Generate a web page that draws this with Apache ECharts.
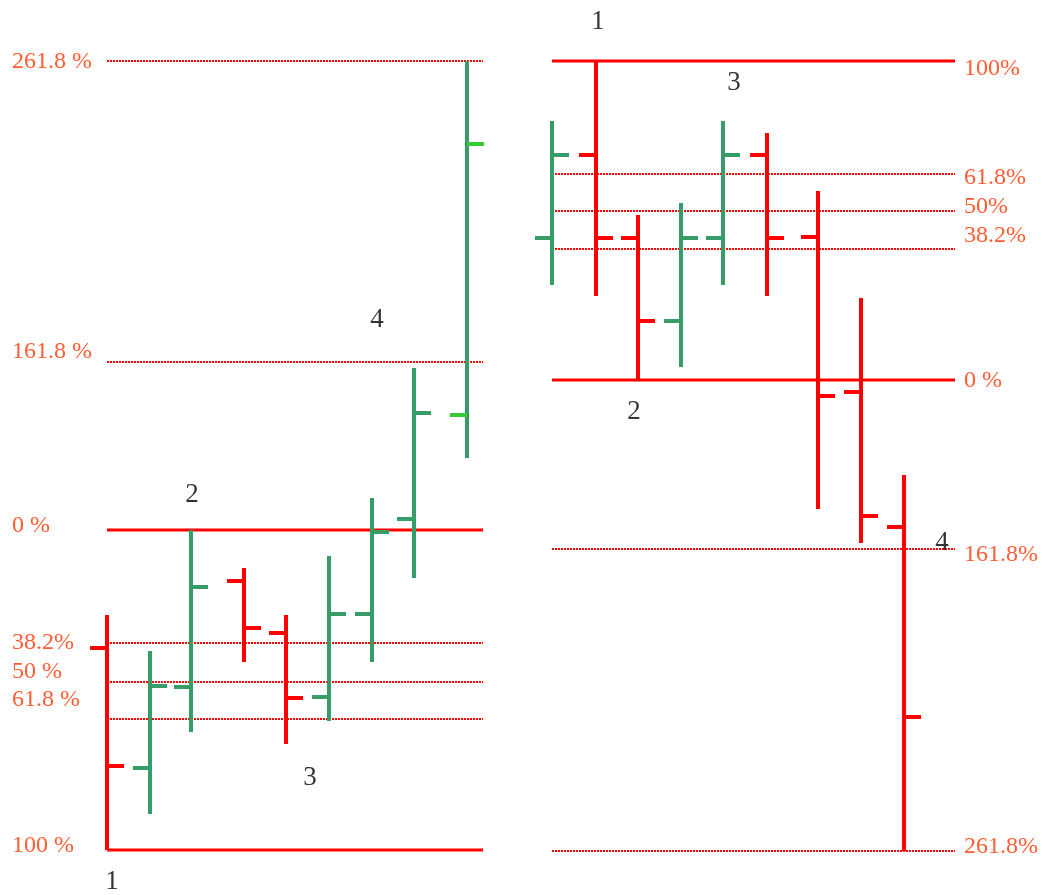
<!DOCTYPE html>
<html>
<head>
<meta charset="utf-8">
<script src="https://cdn.jsdelivr.net/npm/echarts@6/dist/echarts.min.js"></script>
<style>
    html, body {margin: 0; padding: 0; background: #fff;}
    #main {width: 1044px; height: 895px;}
</style>
</head>
<body>
<div id="main"></div>
<script>
// 左图: 上升行情 (price units)
let leftX = [107, 150, 191, 244, 286, 329, 372, 414, 467];
let leftOpen = [247, 127, 208, 314, 262, 198, 281, 376, 480];
let leftHigh = [280, 244, 365, 327, 280, 339, 397, 527, 834];
let leftLow = [45, 81, 163, 233, 151, 174, 233, 317, 437];
let leftClose = [129, 209, 308, 267, 197, 281, 363, 482, 751];
let leftMarked = [false, false, false, false, false, false, false, false, true];

// 右图: 下降行情
let rightX = [552, 596, 638, 681, 723, 767, 818, 861, 904];
let rightOpen = [657, 740, 657, 574, 657, 740, 658, 503, 368];
let rightHigh = [774, 834, 680, 692, 774, 762, 704, 597, 420];
let rightLow = [610, 599, 515, 528, 610, 599, 386, 352, 44];
let rightClose = [740, 657, 574, 657, 740, 657, 499, 379, 178];
let rightMarked = [false, false, false, false, false, false, false, false, false];

// fibonacci levels
let leftLevelNames = ['261.8 %', '161.8 %', '0 %', '38.2%', '50 %', '61.8 %', '100 %'];
let leftLevelValues = [834, 533, 365, 252, 213, 176, 45];
let leftLevelSolid = [false, false, true, false, false, false, true];
let leftLabelValues = [833, 543, 369, 252, 223, 195, 49];
let leftLevelFrom = 107, leftLevelTo = 483, leftLabelX = 12;

let rightLevelNames = ['100%', '61.8%', '50%', '38.2%', '0 %', '161.8%', '261.8%'];
let rightLevelValues = [834, 721, 684, 646, 515, 346, 44];
let rightLevelSolid = [true, false, false, false, true, false, false];
let rightLabelValues = [826, 717, 688, 659, 514, 340, 48];
let rightLevelFrom = 552, rightLevelTo = 955, rightLabelX = 964;

// wave counts
let waveNames = ['1', '2', '3', '4'];
let leftWaveX = [112, 192, 310, 377];
let leftWaveY = [13, 400, 117, 575];
let rightWaveX = [598, 634, 734, 942];
let rightWaveY = [873, 483, 812, 352];

let GREEN = '#369c68';
let RED = '#ff0000';
let LIME = '#33cc33';
let LABEL = '#ff3300';
let TICK = 17;

function ohlcData(xs, o, h, l, c, marked) {
    return xs.map(function (x, i) {
        return [x, o[i], h[i], l[i], c[i], marked[i] ? 1 : 0];
    });
}

function renderOhlc(params, api) {
    let x = api.value(0);
    let open = api.coord([x, api.value(1)]);
    let high = api.coord([x, api.value(2)]);
    let low = api.coord([x, api.value(3)]);
    let close = api.coord([x, api.value(4)]);
    let up = api.value(4) > api.value(1);
    let color = up ? GREEN : RED;
    let tickColor = api.value(5) ? LIME : color;
    return {
        type: 'group',
        children: [
            {type: 'line', shape: {x1: high[0], y1: high[1], x2: low[0], y2: low[1]},
                style: {stroke: color, lineWidth: 4}},
            {type: 'line', shape: {x1: open[0] - TICK, y1: open[1], x2: open[0], y2: open[1]},
                style: {stroke: tickColor, lineWidth: 4}},
            {type: 'line', shape: {x1: close[0], y1: close[1], x2: close[0] + TICK, y2: close[1]},
                style: {stroke: tickColor, lineWidth: 4}}
        ]
    };
}

function levelData(values, solid, from, to) {
    return values.map(function (v, i) {
        return [from, to, v, solid[i] ? 1 : 0];
    });
}

// 水平线: 实线 3px, 点线 2px
function renderLevel(params, api) {
    let a = api.coord([api.value(0), api.value(2)]);
    let b = api.coord([api.value(1), api.value(2)]);
    let solid = api.value(3) === 1;
    return {
        type: 'line',
        shape: {x1: a[0], y1: a[1], x2: b[0], y2: b[1]},
        style: solid
            ? {stroke: RED, lineWidth: 3}
            : {stroke: RED, lineWidth: 2, lineDash: [2, 1]}
    };
}

function levelLabels(names, values, x) {
    return names.map(function (n, i) {
        return {name: n, value: [x, values[i]]};
    });
}

function waveLabels(xs, ys) {
    return waveNames.map(function (n, i) {
        return {name: n, value: [xs[i], ys[i]]};
    });
}

let chart = echarts.init(document.getElementById('main'));
let option = {
    animation: false,
    backgroundColor: '#fff',
    grid: {left: 0, right: 0, top: 0, bottom: 0},
    xAxis: {type: 'value', min: 0, max: 1044, show: false},
    yAxis: {type: 'value', min: 0, max: 895, show: false},
    series: [
        {
            type: 'custom',
            silent: true,
            z: 1,
            renderItem: renderLevel,
            data: levelData(leftLevelValues, leftLevelSolid, leftLevelFrom, leftLevelTo)
                .concat(levelData(rightLevelValues, rightLevelSolid, rightLevelFrom, rightLevelTo))
        },
        {
            type: 'custom',
            z: 2,
            renderItem: renderOhlc,
            data: ohlcData(leftX, leftOpen, leftHigh, leftLow, leftClose, leftMarked)
        },
        {
            type: 'custom',
            z: 2,
            renderItem: renderOhlc,
            data: ohlcData(rightX, rightOpen, rightHigh, rightLow, rightClose, rightMarked)
        },
        {
            type: 'scatter',
            symbolSize: 0,
            z: 3,
            label: {
                show: true,
                position: 'right',
                distance: 0,
                formatter: '{b}',
                color: LABEL,
                fontFamily: 'Liberation Serif',
                fontSize: 24
            },
            data: levelLabels(leftLevelNames, leftLabelValues, leftLabelX)
                .concat(levelLabels(rightLevelNames, rightLabelValues, rightLabelX))
        },
        {
            type: 'scatter',
            symbolSize: 0,
            z: 3,
            label: {
                show: true,
                position: 'inside',
                formatter: '{b}',
                color: '#000',
                fontFamily: 'Liberation Serif',
                fontSize: 27
            },
            data: waveLabels(leftWaveX, leftWaveY).concat(waveLabels(rightWaveX, rightWaveY))
        }
    ]
};
chart.setOption(option);
</script>
</body>
</html>
